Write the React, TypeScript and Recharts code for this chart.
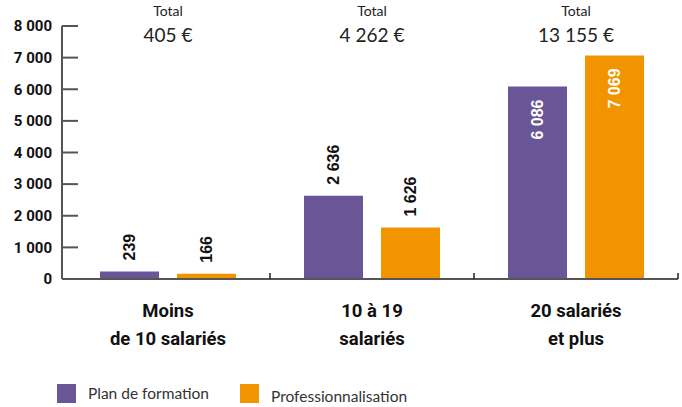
import React from "react"
import { BarChart, Bar, XAxis, YAxis, Legend, LabelList } from "recharts"

const categories = [["Moins", "de 10 salariés"], ["10 à 19", "salariés"], ["20 salariés", "et plus"]]
const planFormation = [239, 2636, 6086]
const professionnalisation = [166, 1626, 7069]
const totals = [405, 4262, 13155]
const yTicks = [0, 1000, 2000, 3000, 4000, 5000, 6000, 7000, 8000]

const PURPLE = "#6a5596"
const ORANGE = "#f29400"
const AXIS = "#555555"

const CHART_W = 682
const CHART_H = 407
const Y_AXIS_W = 62
const MARGIN_RIGHT = 4
const PAD_LEFT = 4
const BAND = (CHART_W - Y_AXIS_W - MARGIN_RIGHT - PAD_LEFT) / categories.length

const data = categories.map((c, i) => ({
  name: c.join("\n"),
  plan: planFormation[i],
  pro: professionnalisation[i],
}))

const fmt = (v: number) => String(v).replace(/\B(?=(\d{3})+(?!\d))/g, " ")

const BarLabel = (props: any) => {
  const { x, y, width, height, value } = props
  const cx = x + width / 2
  const inside = height > 120
  const ty = inside ? y + 13 : y - 11
  return (
    <text
      x={cx}
      y={ty}
      transform={`rotate(-90 ${cx} ${ty})`}
      textAnchor={inside ? "end" : "start"}
      dominantBaseline="central"
      fill={inside ? "#ffffff" : "#111111"}
      fontFamily="'Liberation Sans', Arial, sans-serif"
      fontWeight={700}
      fontSize={16}
    >
      {fmt(value)}
    </text>
  )
}

// two-line category label, with the small separator tick at the right edge of its band
const CategoryTick = (props: any) => {
  const { x, y, payload } = props
  const lines = String(payload.value).split("\n")
  const sx = x + BAND / 2
  return (
    <g>
      <path d={`M${sx},${y - 6}L${sx},${y}`} stroke="#222222" strokeWidth={1.5} fill="none" />
      <text x={x} y={y} textAnchor="middle" fontFamily="Roboto, sans-serif" fontWeight={700} fontSize={18.5} fill="#111111">
        {lines.map((l, i) => (
          <tspan key={i} x={x} dy={i === 0 ? 38 : 28}>
            {l}
          </tspan>
        ))}
      </text>
    </g>
  )
}

const TotalTick = (props: any) => {
  const { x, index } = props
  return (
    <g>
      <text x={x} y={16} textAnchor="middle" fontFamily="Lato, sans-serif" fontSize={14} fill="#222222">
        Total
      </text>
      <text x={x} y={42} textAnchor="middle" fontFamily="Lato, sans-serif" fontSize={19} fill="#222222">
        {fmt(totals[index])} €
      </text>
    </g>
  )
}

const Empty = () => <g />

const LegendContent = () => (
  <div
    style={{
      height: 26,
      display: "flex",
      alignItems: "flex-start",
      paddingTop: 3,
      paddingLeft: 57,
      boxSizing: "border-box",
      fontFamily: "Lato, sans-serif",
      fontSize: 15.5,
      color: "#333333",
    }}
  >
    <div style={{ display: "flex", alignItems: "center", width: 183 }}>
      <span style={{ width: 19, height: 19, background: PURPLE, display: "inline-block", marginRight: 12 }} />
      <span style={{ lineHeight: "19px" }}>Plan de formation</span>
    </div>
    <div style={{ display: "flex", alignItems: "center" }}>
      <span style={{ width: 19, height: 19, background: ORANGE, display: "inline-block", marginRight: 12 }} />
      <span style={{ lineHeight: "19px", position: "relative", top: 3 }}>Professionnalisation</span>
    </div>
  </div>
)

export default function App() {
  return (
    <div style={{ position: "absolute", left: 0, top: 0, width: CHART_W, height: CHART_H }}>
      <BarChart
        width={CHART_W}
        height={CHART_H}
        data={data}
        margin={{ top: 26, right: MARGIN_RIGHT, left: 0, bottom: 0 }}
        barGap={18}
      >
        <XAxis
          dataKey="name"
          height={102}
          padding={{ left: PAD_LEFT, right: 0 }}
          axisLine={{ stroke: AXIS, strokeWidth: 2 }}
          tickLine={false}
          tickSize={0}
          tickMargin={0}
          interval={0}
          tick={<CategoryTick />}
        />
        <XAxis
          xAxisId="total"
          dataKey="name"
          orientation="top"
          mirror
          height={1}
          padding={{ left: PAD_LEFT, right: 0 }}
          axisLine={false}
          tickLine={false}
          interval={0}
          tick={<TotalTick />}
        />
        <YAxis
          width={Y_AXIS_W}
          domain={[0, 8000]}
          ticks={yTicks}
          interval={0}
          axisLine={{ stroke: AXIS, strokeWidth: 2 }}
          tickLine={false}
          tickSize={0}
          tickMargin={10}
          tickFormatter={fmt}
          tick={{ fontFamily: "Roboto, sans-serif", fontWeight: 700, fontSize: 15, fill: "#111111" }}
        />
        <YAxis
          yAxisId="ticks"
          domain={[0, 8000]}
          ticks={yTicks}
          allowDataOverflow
          interval={0}
          mirror
          width={1}
          axisLine={false}
          tickLine={{ stroke: AXIS, strokeWidth: 2 }}
          tickSize={16}
          tick={<Empty />}
        />
        <Legend verticalAlign="bottom" align="left" content={<LegendContent />} />
        <Bar dataKey="plan" name="Plan de formation" fill={PURPLE} barSize={59} isAnimationActive={false}>
          <LabelList dataKey="plan" content={<BarLabel />} />
        </Bar>
        <Bar dataKey="pro" name="Professionnalisation" fill={ORANGE} barSize={59} isAnimationActive={false}>
          <LabelList dataKey="pro" content={<BarLabel />} />
        </Bar>
      </BarChart>
    </div>
  )
}
